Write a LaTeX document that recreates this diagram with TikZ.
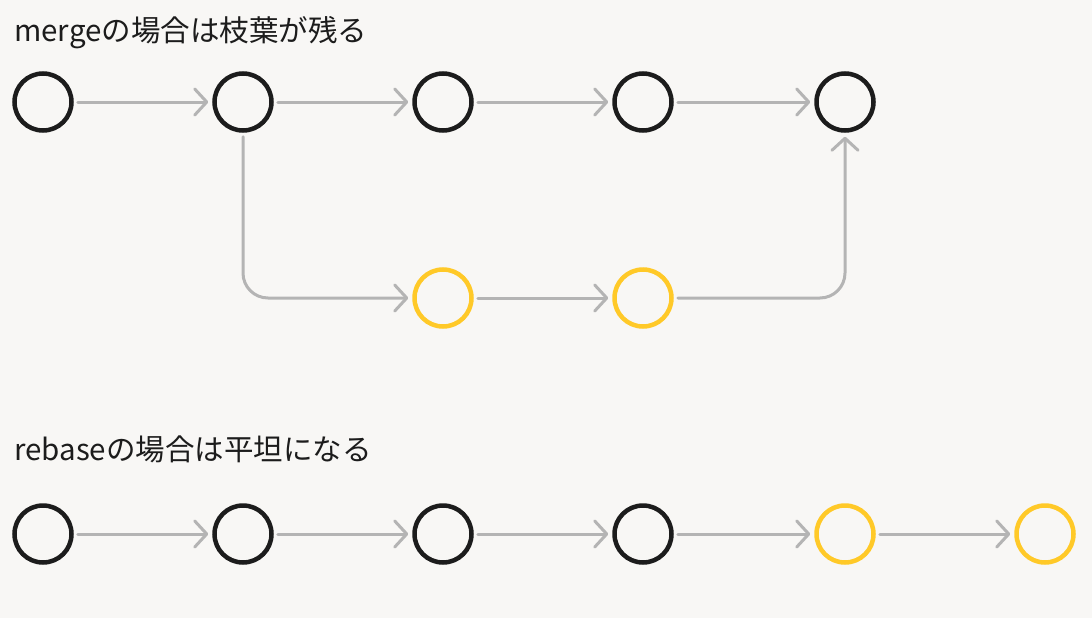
\documentclass[tikz,border=0pt]{standalone}
\usepackage{fontspec}
\setmainfont{Noto Sans CJK JP}
\usetikzlibrary{arrows.meta}
\definecolor{bgc}{HTML}{F8F7F5}
\definecolor{ink}{HTML}{1C1C1C}
\definecolor{lineg}{HTML}{B4B4B4}
\definecolor{yel}{HTML}{FFC928}
\tikzset{
  commit/.style={circle, draw=ink, line width=4.5pt, minimum size=57pt, inner sep=0pt},
  feat/.style={commit, draw=yel},
  arr/.style={draw=lineg, line width=3pt, line cap=round,
    -{Straight Barb[length=12pt,width=26pt,line cap=round,line join=round]},
    shorten <=4pt, shorten >=4pt},
  title/.style={anchor=base west, inner sep=0pt, font=\fontsize{29.5pt}{32pt}\selectfont, text=ink}
}
\begin{document}
\begin{tikzpicture}[x=1pt,y=-1pt]
\fill[bgc] (0,0) rectangle (1092,618);
\useasboundingbox (0,0) rectangle (1092,618);
\node[title] (t1) at (14,42) {mergeの場合は枝葉が残る};
\node[commit] (m1) at (43,102) {};
\node[commit] (m2) at (243,102) {};
\node[commit] (m3) at (443,102) {};
\node[commit] (m4) at (643,102) {};
\node[commit] (m5) at (845,102) {};
\node[feat] (y1) at (443,298) {};
\node[feat] (y2) at (643,298) {};
\draw[arr] (m1) -- (m2);
\draw[arr] (m2) -- (m3);
\draw[arr] (m3) -- (m4);
\draw[arr] (m4) -- (m5);
\draw[arr] (y1) -- (y2);
\draw[arr, rounded corners=25pt] (m2.south) |- (y1.west);
\draw[arr, rounded corners=25pt] (y2.east) -| (m5.south);
\node[title] (t2) at (14,460) {rebaseの場合は平坦になる};
\node[commit] (r1) at (43,534) {};
\node[commit] (r2) at (243,534) {};
\node[commit] (r3) at (443,534) {};
\node[commit] (r4) at (643,534) {};
\node[feat] (r5) at (845,534) {};
\node[feat] (r6) at (1045,534) {};
\draw[arr] (r1) -- (r2);
\draw[arr] (r2) -- (r3);
\draw[arr] (r3) -- (r4);
\draw[arr] (r4) -- (r5);
\draw[arr] (r5) -- (r6);
\end{tikzpicture}
\end{document}
